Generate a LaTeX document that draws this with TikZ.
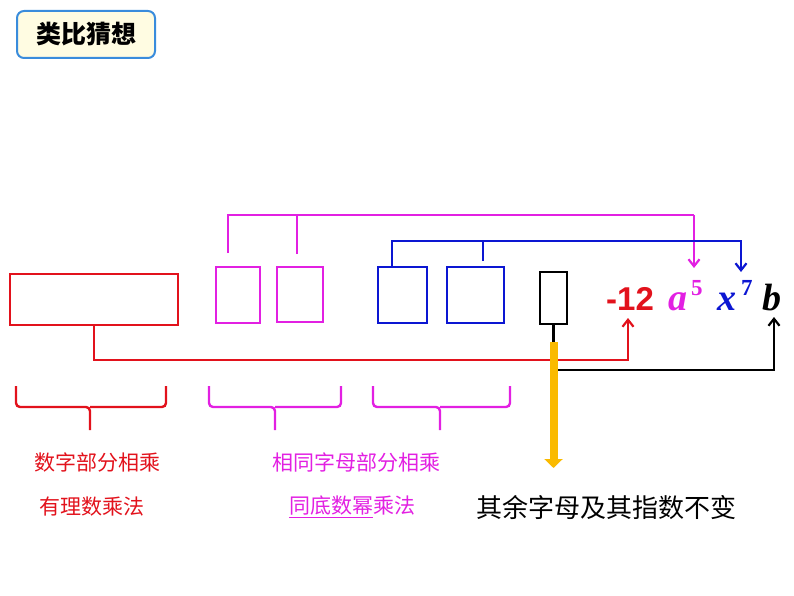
\documentclass[tikz,border=0pt]{standalone}
\usepackage{fontspec}
\setmainfont{Liberation Serif}
\newfontfamily\cjk{Noto Sans CJK SC}
\newfontfamily\lsans{Liberation Sans}
\usetikzlibrary{arrows.meta}
\definecolor{cred}{RGB}{226,18,28}
\definecolor{cmag}{RGB}{226,32,226}
\definecolor{cblue}{RGB}{12,22,210}
\definecolor{cyel}{RGB}{250,186,0}
\definecolor{tborder}{RGB}{58,140,220}
\definecolor{tfill}{RGB}{255,252,226}
\begin{document}
\begin{tikzpicture}[x=1pt,y=-1pt,
  box/.style={draw,line width=2.8pt,inner sep=0pt,outer sep=0pt},
  conn/.style={line width=2.4pt},
  tip/.style={-{Straight Barb[length=7pt,width=11pt,line width=2.2pt]}},
  brace/.style={line width=2.4pt,rounded corners=4pt},
  lbl/.style={inner sep=0pt,font=\cjk\fontsize{21}{21}\selectfont}
]
\useasboundingbox (0,0) rectangle (794,596);
% title
\node[draw=tborder,fill=tfill,line width=2pt,rounded corners=7pt,minimum width=138pt,minimum height=47pt,inner sep=0pt,font=\cjk\bfseries\fontsize{25}{25}\selectfont] (title) at (86,34.5) {类比猜想};
% boxes
\node[box,draw=cred,line width=2.4pt,minimum width=168pt,minimum height=51pt] (rb) at (94,299.5) {};
\node[box,draw=cmag,minimum width=44pt,minimum height=56pt] (m1) at (238,295) {};
\node[box,draw=cmag,minimum width=46pt,minimum height=55pt] (m2) at (300,294.5) {};
\node[box,draw=cblue,minimum width=49pt,minimum height=56pt] (b1) at (402.5,295) {};
\node[box,draw=cblue,minimum width=57pt,minimum height=56pt] (b2) at (475.5,295) {};
\node[box,draw=black,minimum width=27pt,minimum height=52pt] (k1) at (553.5,298) {};
% formula
\node[inner sep=0pt,anchor=base west,text=cred,font=\lsans\bfseries\fontsize{33}{33}\selectfont] (n12) at (606,310) {-12};
\node[inner sep=0pt,anchor=base west,text=cmag,font=\bfseries\itshape\fontsize{38}{38}\selectfont] (na) at (668,310) {a};
\node[inner sep=0pt,anchor=base west,text=cmag,font=\bfseries\fontsize{23}{23}\selectfont] (na5) at (691,295) {5};
\node[inner sep=0pt,anchor=base west,text=cblue,font=\bfseries\itshape\fontsize{38}{38}\selectfont] (nx) at (717,310) {x};
\node[inner sep=0pt,anchor=base west,text=cblue,font=\bfseries\fontsize{23}{23}\selectfont] (nx7) at (741,295) {7};
\node[inner sep=0pt,anchor=base west,text=black,font=\bfseries\itshape\fontsize{38}{38}\selectfont] (nb) at (762,310) {b};
% arrow tips
\coordinate (ta) at (694,268);
\coordinate (tx) at (741,272);
\coordinate (t12) at (628,318);
\coordinate (tb) at (774,317);
\coordinate (ma) at (228,253);
\coordinate (mb) at (297,254);
\coordinate (bb) at (483,261);
% magenta connector
\draw[conn,cmag] (ma) -- (228,215) -- (694,215);
\draw[conn,cmag] (mb) -- (297,215);
\draw[conn,cmag,tip] (694,215) -- (ta);
% blue connector
\draw[conn,cblue,tip] (b1.north -| 392,0) -- (392,241) -| (tx);
\draw[conn,cblue] (bb) -- (483,241);
% red connector
\draw[conn,cred,tip] (rb.south) -- (94,360) -| (t12);
% black connector
\draw[conn,black,tip] (k1.south) -- (553.5,370) -| (tb);
% yellow arrow
\coordinate (ys) at (553.5,342);
\coordinate (ye) at (553.5,468);
\draw[cyel,line width=8pt,-{Triangle[length=9pt,width=18pt]}] (ys) -- (ye);
% braces
\draw[brace,cred] (16,386) -- (16,407) -- (90,407) -- (90,430);
\draw[brace,cred] (166,386) -- (166,407) -- (90,407);
\draw[brace,cmag] (209,386) -- (209,407) -- (275,407) -- (275,430);
\draw[brace,cmag] (341,386) -- (341,407) -- (275,407);
\draw[brace,cmag] (373,386) -- (373,407) -- (440,407) -- (440,430);
\draw[brace,cmag] (510,386) -- (510,407) -- (440,407);
% labels
\node[lbl,text=cred] (l1) at (97,462) {数字部分相乘};
\node[lbl,text=cred] (l2) at (92,507) {有理数乘法};
\node[lbl,text=cmag] (l3) at (356,462) {相同字母部分相乘};
\node[lbl,text=cmag] (l4) at (352,507) {\underline{同底数幂}乘法};
\node[lbl,text=black,font=\cjk\fontsize{26}{26}\selectfont] (l5) at (606,508) {其余字母及其指数不变};
\end{tikzpicture}
\end{document}
